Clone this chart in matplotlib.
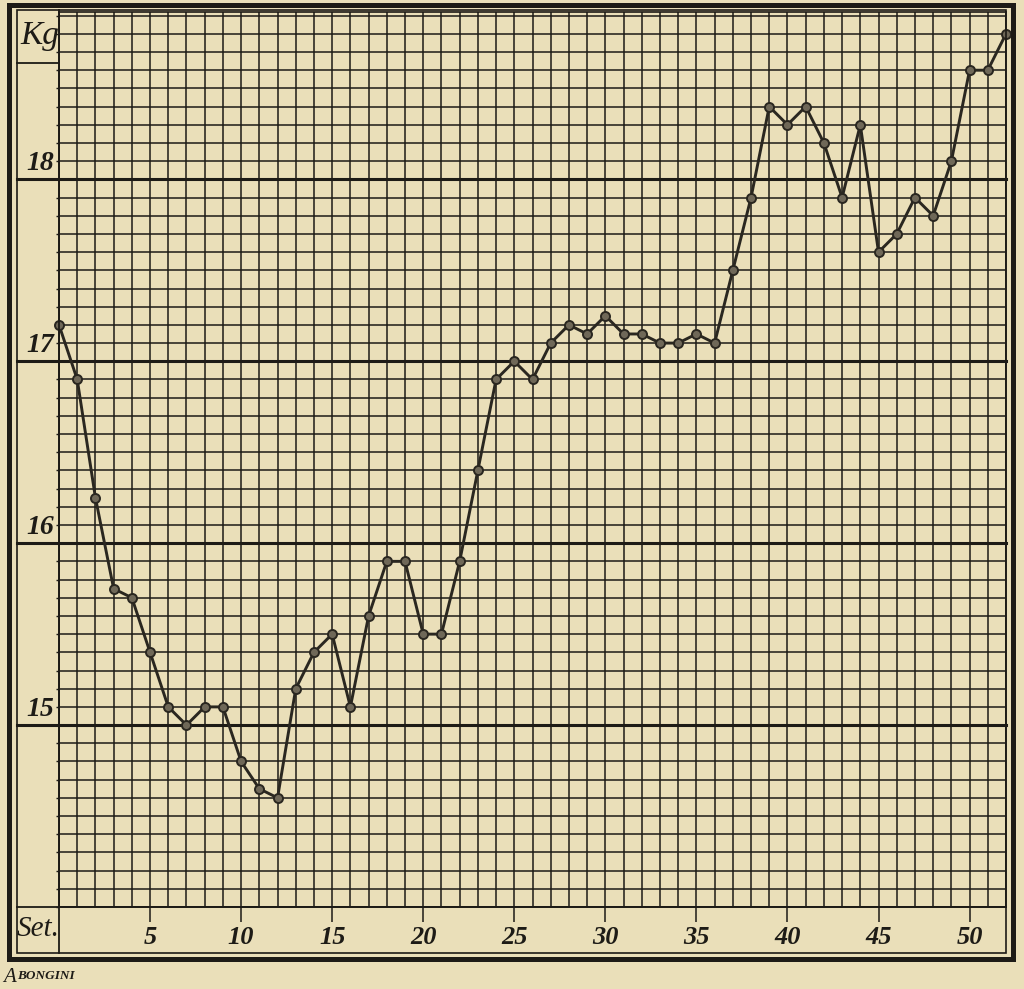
import numpy as np
import matplotlib
matplotlib.use("Agg")
import matplotlib.pyplot as plt
from matplotlib.lines import Line2D
from matplotlib.patches import Rectangle

# ---- data ----
weights = [17.2, 16.9, 16.25, 15.75, 15.7, 15.4, 15.1, 15.0, 15.1, 15.1,
           14.8, 14.65, 14.6, 15.2, 15.4, 15.5, 15.1, 15.6, 15.9, 15.9,
           15.5, 15.5, 15.9, 16.4, 16.9, 17.0, 16.9, 17.1, 17.2, 17.15,
           17.25, 17.15, 17.15, 17.1, 17.1, 17.15, 17.1, 17.5, 17.9, 18.4,
           18.3, 18.4, 18.2, 17.9, 18.3, 17.6, 17.7, 17.9, 17.8, 18.1,
           18.6, 18.6, 18.8]
weeks = list(range(len(weights)))
week_ticks = [5, 10, 15, 20, 25, 30, 35, 40, 45, 50]
week_labels = ["5", "10", "15", "20", "25", "30", "35", "40", "45", "50"]
kg_levels = [15, 16, 17, 18]
kg_labels = ["15", "16", "17", "18"]
y_unit = "Kg"
x_unit = "Set."
signature = "BONGINI"

# ---- style ----
paper = "#EADFB9"
ink = "#1d1b16"
serif = ["Liberation Serif", "DejaVu Serif"]

W, H = 1024, 989
fig = plt.figure(figsize=(W / 100, H / 100), dpi=100, facecolor=paper)

def fx(px):
    return px / W

def fy(py):
    return 1 - py / H

gl, gr, gt, gb = 59, 1006, 12, 907
ax = fig.add_axes([fx(gl), fy(gb), (gr - gl) / W, (gb - gt) / H])
ax.set_facecolor(paper)
ax.set_xlim(0, len(weights) - 1)
ax.set_ylim(14.0, 18.92)

# grid
ax.set_xticks(weeks, minor=True)
ax.set_xticks(week_ticks)
ax.set_xticklabels(week_labels, fontfamily=serif, fontstyle="italic",
                   fontsize=19, fontweight="bold", color=ink)
ax.set_yticks([])
ax.set_yticks(np.arange(140, 190) / 10, minor=True)
ax.grid(which="both", color=ink, lw=1.1)
ax.tick_params(axis="x", which="major", length=10.5, width=1.1, color=ink,
               direction="out", pad=3)
ax.tick_params(axis="x", which="minor", length=0)
ax.tick_params(axis="y", which="minor", length=2.5, width=1.0, color=ink,
               direction="out", left=True)
for s in ax.spines.values():
    s.set_color(ink)
    s.set_linewidth(1.2)
ax.set_axisbelow(True)

# heavy integer lines, extending through the label column
ext = (gl - 17) / (gr - gl)
for lvl, lab in zip(kg_levels, kg_labels):
    ax.axhline(lvl, xmin=-ext, xmax=1, color=ink, lw=2.2, clip_on=False, zorder=2)
    ax.annotate(lab, xy=(0, lvl), xycoords=("axes fraction", "data"),
                xytext=(-5, 3), textcoords="offset pixels",
                ha="right", va="bottom", fontfamily=serif, fontstyle="italic",
                fontweight="bold", fontsize=20, color=ink)

# data line
ax.plot(weeks, weights, color="#2a2720", lw=2.1, marker="o", ms=6.5,
        mfc="#6f6858", mec="#2a2720", mew=1.4, clip_on=False, zorder=5)

# frame and boxes (figure coordinates)
fig.add_artist(Rectangle((fx(9), fy(959)), (1013 - 9) / W, (959 - 5) / H,
                         transform=fig.transFigure, fill=False, ec=ink, lw=3.6))
fig.add_artist(Rectangle((fx(17), fy(953)), (gr - 17) / W, (953 - 10) / H,
                         transform=fig.transFigure, fill=False, ec=ink, lw=1.2))
fig.add_artist(Line2D([fx(17), fx(gr)], [fy(gb), fy(gb)], transform=fig.transFigure,
                      color=ink, lw=1.3))
fig.add_artist(Line2D([fx(gl), fx(gl)], [fy(10), fy(953)], transform=fig.transFigure,
                      color=ink, lw=1.3))
fig.add_artist(Line2D([fx(17), fx(gl)], [fy(63), fy(63)], transform=fig.transFigure,
                      color=ink, lw=1.3))

fig.text(fx(40), fy(36), y_unit, ha="center", va="center", fontfamily=serif,
         fontstyle="italic", fontsize=24, color=ink)
fig.text(fx(38), fy(929), x_unit, ha="center", va="center", fontfamily=serif,
         fontstyle="italic", fontsize=21, color=ink)

fig.text(fx(3), fy(977), "A", ha="left", va="center", fontfamily=serif,
         fontstyle="italic", fontsize=15, color=ink)
fig.text(fx(17), fy(976), signature, ha="left", va="center", fontfamily=serif,
         fontstyle="italic", fontweight="bold", fontsize=9.5, color=ink)

fig.savefig("out.png", dpi=100, facecolor=paper)
